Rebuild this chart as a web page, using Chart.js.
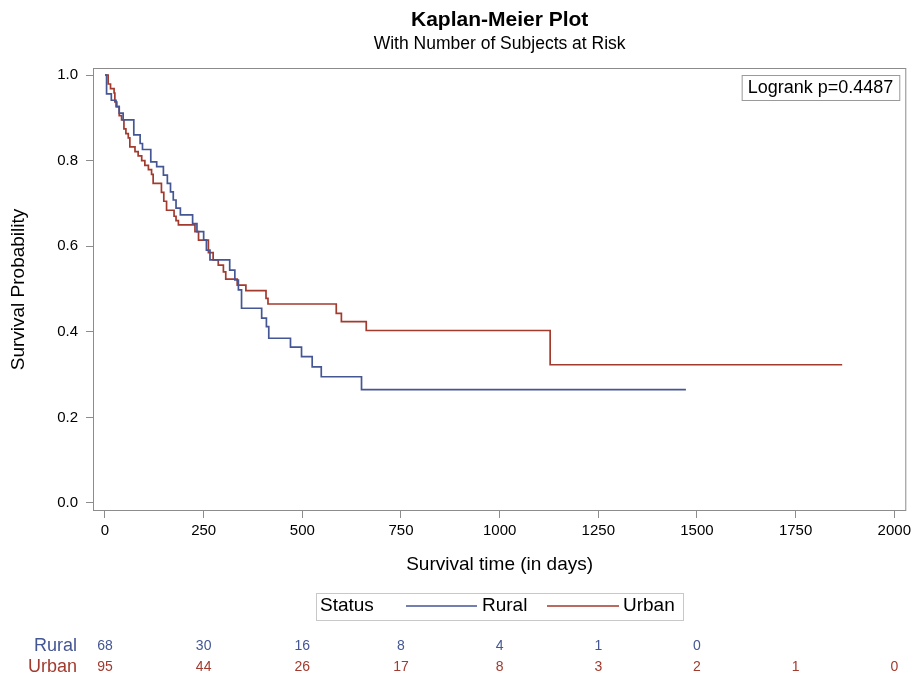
<!DOCTYPE html>
<html><head><meta charset="utf-8">
<script src="https://cdn.jsdelivr.net/npm/chart.js@4.4.1/dist/chart.umd.min.js"></script>
<style>html,body{margin:0;padding:0;background:#fff}#wrap{width:915px;height:678px}canvas{display:block}</style>
</head><body><div id="wrap"><canvas id="c" width="915" height="678"></canvas></div>
<script>
// ---- data ----
const ruralTimes = [0,4,16,28,36,46,73,89,95,116,131,148,158,166,173,180,191,222,233,250,257,266,316,329,338,346,397,409,415,470,498,525,548,650,1472];
const ruralSurv  = [1.0,0.956,0.941,0.926,0.911,0.895,0.860,0.840,0.826,0.797,0.786,0.766,0.747,0.727,0.708,0.689,0.673,0.653,0.634,0.614,0.591,0.568,0.544,0.521,0.498,0.455,0.432,0.412,0.385,0.364,0.342,0.318,0.295,0.265,0.265];
const urbanTimes = [0,8,14,23,25,30,36,42,48,53,59,63,76,84,93,101,110,118,122,143,149,156,175,180,186,228,237,262,274,287,300,306,335,357,408,413,586,599,662,1128,1868];
const urbanSurv  = [1.0,0.979,0.968,0.958,0.937,0.926,0.905,0.895,0.874,0.863,0.853,0.832,0.821,0.811,0.800,0.789,0.779,0.768,0.747,0.726,0.705,0.684,0.670,0.660,0.650,0.634,0.614,0.585,0.568,0.556,0.540,0.523,0.509,0.496,0.478,0.465,0.443,0.424,0.403,0.323,0.323];
const xTicks = [0,250,500,750,1000,1250,1500,1750,2000];
const yTicks = [0.0,0.2,0.4,0.6,0.8,1.0];
const riskTimes = [0,250,500,750,1000,1250,1500,1750,2000];
const ruralRisk = [68,30,16,8,4,1,0];
const urbanRisk = [95,44,26,17,8,3,2,1,0];
const groups = ['Rural','Urban'];
const pValueText = 'Logrank p=0.4487';

const BLUE = '#445694', RED = '#A23A2E';
const FONT = '"Liberation Sans", Arial, sans-serif';

const toPts = (t, s) => t.map((v, i) => ({x: v, y: s[i]}));

const decor = {
  id: 'decor',
  afterDraw(chart) {
    const {ctx, chartArea: a, scales: {x}} = chart;
    ctx.save();
    // plot frame
    ctx.strokeStyle = '#8c8c8c'; ctx.lineWidth = 1;
    ctx.strokeRect(a.left + 0.5, a.top + 0.5, a.right - a.left - 1, a.bottom - a.top - 1);
    // titles
    const cx = (a.left + a.right) / 2;
    ctx.fillStyle = '#000'; ctx.textAlign = 'center'; ctx.textBaseline = 'middle';
    ctx.font = 'bold 21px ' + FONT;
    ctx.fillText('Kaplan-Meier Plot', cx, 20);
    ctx.font = '17.5px ' + FONT;
    ctx.fillText('With Number of Subjects at Risk', cx, 44);
    // logrank box
    ctx.font = '18px ' + FONT;
    const tw = ctx.measureText(pValueText).width;
    const bx = a.right - 7 - (tw + 12), by = a.top + 7;
    ctx.fillStyle = '#fff'; ctx.fillRect(bx, by, tw + 12, 25);
    ctx.strokeStyle = '#9a9a9a'; ctx.strokeRect(bx + 0.5, by + 0.5, tw + 12, 25);
    ctx.fillStyle = '#000'; ctx.textAlign = 'left';
    ctx.fillText(pValueText, bx + 6, by + 13);
    // legend
    const ly = 606;
    ctx.strokeStyle = '#c8c8c8';
    ctx.strokeRect(316.5, 593.5, 367, 27);
    ctx.font = '19px ' + FONT; ctx.fillStyle = '#000';
    ctx.fillText('Status', 320, ly);
    ctx.lineWidth = 1.5;
    ctx.strokeStyle = BLUE; ctx.beginPath(); ctx.moveTo(406, ly); ctx.lineTo(477, ly); ctx.stroke();
    ctx.fillText(groups[0], 482, ly);
    ctx.strokeStyle = RED; ctx.beginPath(); ctx.moveTo(547, ly); ctx.lineTo(619, ly); ctx.stroke();
    ctx.fillText(groups[1], 623, ly);
    // at-risk table
    const rows = [[groups[0], ruralRisk, BLUE, 646], [groups[1], urbanRisk, RED, 667]];
    rows.forEach(([name, vals, col, y]) => {
      ctx.fillStyle = col;
      ctx.font = '18px ' + FONT; ctx.textAlign = 'right';
      ctx.fillText(name, 77, y);
      ctx.font = '14px ' + FONT; ctx.textAlign = 'center';
      vals.forEach((v, i) => ctx.fillText(String(v), x.getPixelForValue(riskTimes[i]), y));
    });
    ctx.restore();
  }
};

new Chart(document.getElementById('c'), {
  type: 'scatter',
  data: {
    datasets: [
      {label: groups[0], data: toPts(ruralTimes, ruralSurv), borderColor: BLUE, showLine: true, stepped: 'before', borderWidth: 1.7, pointRadius: 0, fill: false},
      {label: groups[1], data: toPts(urbanTimes, urbanSurv), borderColor: RED, showLine: true, stepped: 'before', borderWidth: 1.7, pointRadius: 0, fill: false}
    ]
  },
  options: {
    responsive: false, animation: false, devicePixelRatio: 1,
    layout: {padding: {top: 68, right: 2, bottom: 97, left: 0}},
    plugins: {legend: {display: false}, tooltip: {enabled: false}, title: {display: false}},
    scales: {
      x: {
        type: 'linear', min: -30.4, max: 2030.4,
        afterBuildTicks: s => { s.ticks = xTicks.map(v => ({value: v})); },
        afterFit: s => { s.height = 70; },
        grid: {display: true, drawOnChartArea: false, tickLength: 7, color: '#8c8c8c'},
        border: {display: false},
        ticks: {color: '#000', font: {family: FONT, size: 15}, padding: 4, maxRotation: 0, autoSkip: false, callback: v => String(v)},
        title: {display: true, text: 'Survival time (in days)', color: '#000', font: {family: FONT, size: 19}, padding: {top: 4, bottom: 5}}
      },
      y: {
        type: 'linear', min: -0.0187, max: 1.0164,
        afterBuildTicks: s => { s.ticks = yTicks.map(v => ({value: v})); },
        afterFit: s => { s.width = 93; },
        grid: {display: true, drawOnChartArea: false, tickLength: 7, color: '#8c8c8c'},
        border: {display: false},
        ticks: {color: '#000', font: {family: FONT, size: 15}, padding: 8, callback: v => v.toFixed(1)},
        title: {display: true, text: 'Survival Probability', color: '#000', font: {family: FONT, size: 19}, padding: {top: 7, bottom: 0}}
      }
    }
  },
  plugins: [decor]
});
</script></body></html>
